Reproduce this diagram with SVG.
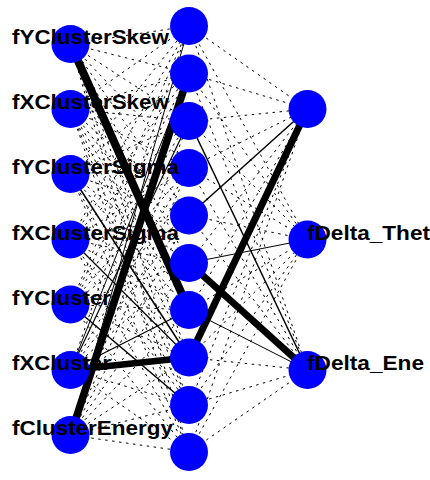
<svg xmlns="http://www.w3.org/2000/svg" width="430" height="480" viewBox="0 0 430 480">
<style>
.d{stroke:#000;stroke-width:1;stroke-dasharray:2.5 4.5;fill:none}
.s{stroke:#000;fill:none}
.n{fill:#0000ff}
.t{font-family:"Liberation Sans",Arial,sans-serif;font-weight:bold;font-size:21px;fill:#000}
</style>
<rect width="430" height="480" fill="#fff"/>
<g id="connectors">
<line class="d" x1="70.5" y1="44" x2="189" y2="26"/>
<line class="d" x1="70.5" y1="44" x2="189" y2="73.5"/>
<line class="d" x1="70.5" y1="44" x2="189" y2="121"/>
<line class="d" x1="70.5" y1="44" x2="189" y2="168"/>
<line class="d" x1="70.5" y1="44" x2="189" y2="215.5"/>
<line class="d" x1="70.5" y1="44" x2="189" y2="263"/>
<line class="d" x1="70.5" y1="44" x2="189" y2="357.5"/>
<line class="d" x1="70.5" y1="44" x2="189" y2="405"/>
<line class="d" x1="70.5" y1="44" x2="189" y2="452"/>
<line class="d" x1="70.5" y1="109" x2="189" y2="26"/>
<line class="d" x1="70.5" y1="109" x2="189" y2="73.5"/>
<line class="d" x1="70.5" y1="109" x2="189" y2="121"/>
<line class="d" x1="70.5" y1="109" x2="189" y2="168"/>
<line class="d" x1="70.5" y1="109" x2="189" y2="215.5"/>
<line class="d" x1="70.5" y1="109" x2="189" y2="263"/>
<line class="d" x1="70.5" y1="109" x2="189" y2="310"/>
<line class="d" x1="70.5" y1="109" x2="189" y2="357.5"/>
<line class="d" x1="70.5" y1="109" x2="189" y2="405"/>
<line class="d" x1="70.5" y1="109" x2="189" y2="452"/>
<line class="d" x1="70.5" y1="174" x2="189" y2="26"/>
<line class="d" x1="70.5" y1="174" x2="189" y2="73.5"/>
<line class="d" x1="70.5" y1="174" x2="189" y2="121"/>
<line class="d" x1="70.5" y1="174" x2="189" y2="168"/>
<line class="d" x1="70.5" y1="174" x2="189" y2="215.5"/>
<line class="d" x1="70.5" y1="174" x2="189" y2="263"/>
<line class="d" x1="70.5" y1="174" x2="189" y2="310"/>
<line class="d" x1="70.5" y1="174" x2="189" y2="405"/>
<line class="d" x1="70.5" y1="174" x2="189" y2="452"/>
<line class="d" x1="70.5" y1="239.5" x2="189" y2="26"/>
<line class="d" x1="70.5" y1="239.5" x2="189" y2="73.5"/>
<line class="d" x1="70.5" y1="239.5" x2="189" y2="121"/>
<line class="d" x1="70.5" y1="239.5" x2="189" y2="168"/>
<line class="d" x1="70.5" y1="239.5" x2="189" y2="215.5"/>
<line class="d" x1="70.5" y1="239.5" x2="189" y2="263"/>
<line class="d" x1="70.5" y1="239.5" x2="189" y2="310"/>
<line class="d" x1="70.5" y1="239.5" x2="189" y2="405"/>
<line class="d" x1="70.5" y1="239.5" x2="189" y2="452"/>
<line class="d" x1="70.5" y1="304.5" x2="189" y2="26"/>
<line class="d" x1="70.5" y1="304.5" x2="189" y2="73.5"/>
<line class="d" x1="70.5" y1="304.5" x2="189" y2="121"/>
<line class="d" x1="70.5" y1="304.5" x2="189" y2="168"/>
<line class="d" x1="70.5" y1="304.5" x2="189" y2="215.5"/>
<line class="d" x1="70.5" y1="304.5" x2="189" y2="263"/>
<line class="d" x1="70.5" y1="304.5" x2="189" y2="310"/>
<line class="d" x1="70.5" y1="304.5" x2="189" y2="357.5"/>
<line class="d" x1="70.5" y1="304.5" x2="189" y2="452"/>
<line class="d" x1="70.5" y1="370" x2="189" y2="26"/>
<line class="d" x1="70.5" y1="370" x2="189" y2="168"/>
<line class="d" x1="70.5" y1="370" x2="189" y2="215.5"/>
<line class="d" x1="70.5" y1="370" x2="189" y2="263"/>
<line class="d" x1="70.5" y1="370" x2="189" y2="405"/>
<line class="d" x1="70.5" y1="370" x2="189" y2="452"/>
<line class="d" x1="70.5" y1="435" x2="189" y2="121"/>
<line class="d" x1="70.5" y1="435" x2="189" y2="168"/>
<line class="d" x1="70.5" y1="435" x2="189" y2="215.5"/>
<line class="d" x1="70.5" y1="435" x2="189" y2="263"/>
<line class="d" x1="70.5" y1="435" x2="189" y2="310"/>
<line class="d" x1="70.5" y1="435" x2="189" y2="357.5"/>
<line class="d" x1="70.5" y1="435" x2="189" y2="405"/>
<line class="d" x1="70.5" y1="435" x2="189" y2="452"/>
<line class="d" x1="189" y1="26" x2="307.5" y2="109"/>
<line class="d" x1="189" y1="26" x2="307.5" y2="239.5"/>
<line class="d" x1="189" y1="26" x2="307.5" y2="370"/>
<line class="d" x1="189" y1="73.5" x2="307.5" y2="109"/>
<line class="d" x1="189" y1="73.5" x2="307.5" y2="239.5"/>
<line class="d" x1="189" y1="73.5" x2="307.5" y2="370"/>
<line class="d" x1="189" y1="121" x2="307.5" y2="109"/>
<line class="d" x1="189" y1="121" x2="307.5" y2="239.5"/>
<line class="d" x1="189" y1="168" x2="307.5" y2="109"/>
<line class="d" x1="189" y1="168" x2="307.5" y2="239.5"/>
<line class="d" x1="189" y1="168" x2="307.5" y2="370"/>
<line class="d" x1="189" y1="215.5" x2="307.5" y2="239.5"/>
<line class="d" x1="189" y1="215.5" x2="307.5" y2="370"/>
<line class="d" x1="189" y1="263" x2="307.5" y2="109"/>
<line class="d" x1="189" y1="310" x2="307.5" y2="109"/>
<line class="d" x1="189" y1="310" x2="307.5" y2="239.5"/>
<line class="d" x1="189" y1="357.5" x2="307.5" y2="239.5"/>
<line class="d" x1="189" y1="357.5" x2="307.5" y2="370"/>
<line class="d" x1="189" y1="405" x2="307.5" y2="109"/>
<line class="d" x1="189" y1="405" x2="307.5" y2="239.5"/>
<line class="d" x1="189" y1="405" x2="307.5" y2="370"/>
<line class="d" x1="189" y1="452" x2="307.5" y2="109"/>
<line class="d" x1="189" y1="452" x2="307.5" y2="239.5"/>
<line class="d" x1="189" y1="452" x2="307.5" y2="370"/>
<line class="s" stroke-width="1.5" x1="70.5" y1="174" x2="189" y2="357.5"/>
<line class="s" stroke-width="1.2" x1="70.5" y1="239.5" x2="189" y2="357.5"/>
<line class="s" stroke-width="1.5" x1="70.5" y1="304.5" x2="189" y2="405"/>
<line class="s" stroke-width="1.2" x1="70.5" y1="370" x2="189" y2="310"/>
<line class="s" stroke-width="1.2" x1="70.5" y1="370" x2="189" y2="121"/>
<line class="s" stroke-width="1" x1="70.5" y1="370" x2="189" y2="73.5"/>
<line class="s" stroke-width="1" x1="70.5" y1="435" x2="189" y2="26"/>
<line class="s" stroke-width="1.5" x1="189" y1="121" x2="307.5" y2="370"/>
<line class="s" stroke-width="1.5" x1="189" y1="215.5" x2="307.5" y2="109"/>
<line class="s" stroke-width="1" x1="189" y1="263" x2="307.5" y2="239.5"/>
<line class="s" stroke-width="1" x1="189" y1="310" x2="307.5" y2="370"/>
<line class="s" stroke-width="8" x1="70.5" y1="44" x2="189" y2="310"/>
<line class="s" stroke-width="7.5" x1="70.5" y1="435" x2="189" y2="73.5"/>
<line class="s" stroke-width="6.5" x1="70.5" y1="370" x2="189" y2="357.5"/>
<line class="s" stroke-width="7" x1="189" y1="357.5" x2="307.5" y2="109"/>
<line class="s" stroke-width="7" x1="189" y1="263" x2="307.5" y2="370"/>
</g>
<g id="input-nodes">
<circle id="in0" class="n" cx="70.5" cy="44" r="19"/>
<circle id="in1" class="n" cx="70.5" cy="109" r="19"/>
<circle id="in2" class="n" cx="70.5" cy="174" r="19"/>
<circle id="in3" class="n" cx="70.5" cy="239.5" r="19"/>
<circle id="in4" class="n" cx="70.5" cy="304.5" r="19"/>
<circle id="in5" class="n" cx="70.5" cy="370" r="19"/>
<circle id="in6" class="n" cx="70.5" cy="435" r="19"/>
</g>
<g id="hidden-nodes">
<circle id="h0" class="n" cx="189" cy="26" r="19"/>
<circle id="h1" class="n" cx="189" cy="73.5" r="19"/>
<circle id="h2" class="n" cx="189" cy="121" r="19"/>
<circle id="h3" class="n" cx="189" cy="168" r="19"/>
<circle id="h4" class="n" cx="189" cy="215.5" r="19"/>
<circle id="h5" class="n" cx="189" cy="263" r="19"/>
<circle id="h6" class="n" cx="189" cy="310" r="19"/>
<circle id="h7" class="n" cx="189" cy="357.5" r="19"/>
<circle id="h8" class="n" cx="189" cy="405" r="19"/>
<circle id="h9" class="n" cx="189" cy="452" r="19"/>
</g>
<g id="output-nodes">
<circle id="o0" class="n" cx="307.5" cy="109" r="19"/>
<circle id="o1" class="n" cx="307.5" cy="239.5" r="19"/>
<circle id="o2" class="n" cx="307.5" cy="370" r="19"/>
</g>
<g id="labels">
<text class="t" x="12" y="44" textLength="157" lengthAdjust="spacingAndGlyphs">fYClusterSkew</text>
<text class="t" x="12" y="109" textLength="157" lengthAdjust="spacingAndGlyphs">fXClusterSkew</text>
<text class="t" x="12" y="174" textLength="167" lengthAdjust="spacingAndGlyphs">fYClusterSigma</text>
<text class="t" x="12" y="239.5" textLength="167" lengthAdjust="spacingAndGlyphs">fXClusterSigma</text>
<text class="t" x="12" y="304.5" textLength="99" lengthAdjust="spacingAndGlyphs">fYCluster</text>
<text class="t" x="12" y="370" textLength="99" lengthAdjust="spacingAndGlyphs">fXCluster</text>
<text class="t" x="12" y="435" textLength="161" lengthAdjust="spacingAndGlyphs">fClusterEnergy</text>
<text class="t" x="307" y="239.5" textLength="123" lengthAdjust="spacingAndGlyphs">fDelta_Thet</text>
<text class="t" x="307" y="370" textLength="117" lengthAdjust="spacingAndGlyphs">fDelta_Ene</text>
</g>
</svg>
